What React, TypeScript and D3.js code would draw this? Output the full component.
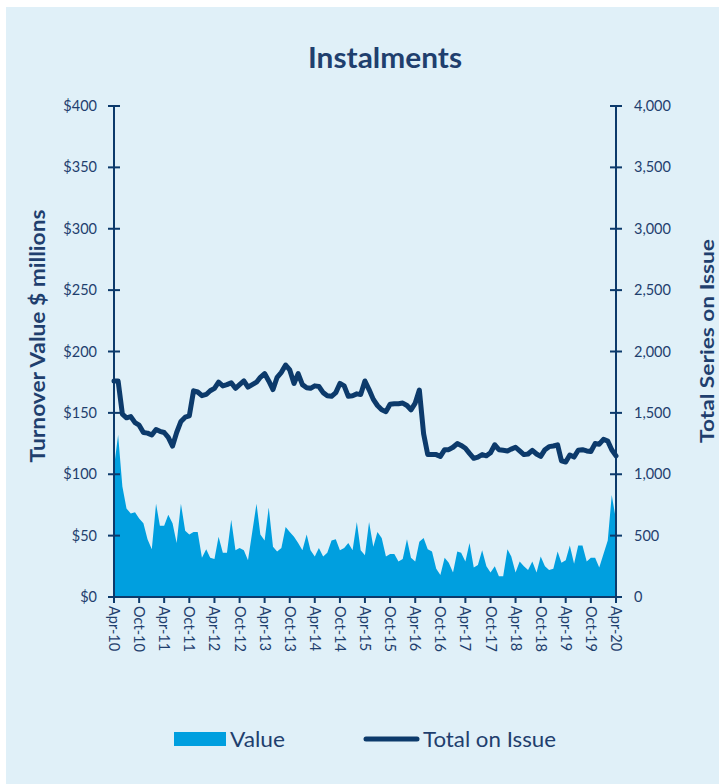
import * as d3 from 'd3';

// monthly, Apr-10 .. Apr-20
const startMonth = new Date(2010, 3, 1);

const valueSeries = [
  106, 132, 90, 72, 68, 69, 64, 60, 47, 39, 76, 58, 58, 67, 60, 44, 76, 54, 51, 53,
  53, 32, 39, 32, 31, 49, 36, 36, 63, 38, 40, 38, 30, 53, 76, 51, 46, 73, 41, 37,
  40, 57, 53, 49, 44, 38, 51, 38, 33, 40, 33, 36, 46, 47, 38, 40, 44, 38, 61, 38,
  34, 61, 41, 53, 48, 33, 35, 35, 29, 31, 47, 32, 29, 45, 48, 39, 37, 23, 18, 32,
  28, 20, 37, 36, 29, 44, 24, 26, 38, 25, 20, 25, 17, 17, 39, 33, 20, 29, 25, 22,
  29, 20, 33, 25, 22, 23, 37, 28, 30, 42, 27, 42, 42, 29, 32, 32, 24, 35, 46, 83,
  63,
];

const totalSeries = [
  1760, 1760, 1490, 1460, 1470, 1420, 1400, 1340, 1335, 1320, 1365, 1350, 1340, 1300, 1230, 1340, 1430, 1465, 1475, 1680,
  1670, 1640, 1650, 1680, 1700, 1750, 1720, 1730, 1745, 1700, 1730, 1760, 1710, 1730, 1750, 1790, 1820, 1760, 1690, 1790,
  1830, 1890, 1850, 1740, 1820, 1730, 1705, 1700, 1720, 1715, 1665, 1640, 1635, 1665, 1740, 1720, 1635, 1640, 1655, 1650,
  1760, 1690, 1610, 1560, 1525, 1510, 1570, 1575, 1575, 1580, 1560, 1525, 1580, 1686, 1330, 1160, 1160, 1160, 1145, 1200,
  1200, 1220, 1250, 1235, 1212, 1170, 1130, 1140, 1160, 1150, 1175, 1240, 1200, 1195, 1190, 1205, 1220, 1190, 1160, 1165,
  1195, 1165, 1145, 1200, 1225, 1230, 1240, 1110, 1100, 1157, 1140, 1195, 1200, 1190, 1185, 1250, 1245, 1285, 1270, 1200,
  1150,
];

const leftTicks = [0, 50, 100, 150, 200, 250, 300, 350, 400];
const rightTicks = [0, 500, 1000, 1500, 2000, 2500, 3000, 3500, 4000];

const navy = '#0c3a6b';
const textColor = '#1f3f6e';
const areaColor = '#009fdf';
const font = 'Lato, "Open Sans", sans-serif';

const left = 114;
const right = 616;
const top = 106;
const bottom = 597;

export default function App() {
  const dates = valueSeries.map((_, i) => d3.timeMonth.offset(startMonth, i));
  const data = dates.map((d, i) => ({ date: d, value: valueSeries[i], total: totalSeries[i] }));

  const x = d3.scaleTime().domain([dates[0], dates[dates.length - 1]]).range([left, right]);
  const yL = d3.scaleLinear().domain([0, 400]).range([bottom, top]);
  const yR = d3.scaleLinear().domain([0, 4000]).range([bottom, top]);

  const area = d3
    .area<(typeof data)[number]>()
    .x((d) => x(d.date))
    .y0(yL(0))
    .y1((d) => yL(d.value));

  const line = d3
    .line<(typeof data)[number]>()
    .x((d) => x(d.date))
    .y((d) => yR(d.total));

  const xTicks = dates.filter((_, i) => i % 6 === 0);
  const fmt = d3.timeFormat('%b-%y');

  return (
    <svg width={719} height={784} style={{ position: 'absolute', left: 0, top: 0 }}>
      <rect x={6} y={7} width={713} height={777} fill="#e0f0f8" />
      <text
        x={385}
        y={68}
        textAnchor="middle"
        fontFamily={font}
        fontWeight="bold"
        fontSize={28}
        textLength={154}
        lengthAdjust="spacingAndGlyphs"
        fill={textColor}
      >
        Instalments
      </text>

      <path d={area(data) ?? ''} fill={areaColor} />
      <path d={line(data) ?? ''} fill="none" stroke={navy} strokeWidth={5} strokeLinejoin="round" strokeLinecap="round" />

      {/* left axis */}
      <line x1={left} x2={left} y1={top} y2={bottom} stroke={navy} strokeWidth={2} />
      {leftTicks.map((t) => (
        <g key={'l' + t}>
          <line x1={left - 6} x2={left + 6} y1={yL(t)} y2={yL(t)} stroke={navy} strokeWidth={2} />
          <text x={97} y={yL(t) + 5} textAnchor="end" fontFamily={font} fontSize={14.5} fill={textColor}>
            {'$' + t}
          </text>
        </g>
      ))}

      {/* right axis */}
      <line x1={right} x2={right} y1={top} y2={bottom} stroke={navy} strokeWidth={2} />
      {rightTicks.map((t) => (
        <g key={'r' + t}>
          <line x1={right - 6} x2={right + 6} y1={yR(t)} y2={yR(t)} stroke={navy} strokeWidth={2} />
          <text x={634} y={yR(t) + 5} textAnchor="start" fontFamily={font} fontSize={14.5} fill={textColor}>
            {d3.format(',')(t)}
          </text>
        </g>
      ))}

      {/* x axis */}
      <line x1={left} x2={right} y1={bottom} y2={bottom} stroke={navy} strokeWidth={2} />
      {xTicks.map((d) => (
        <g key={d.toISOString()}>
          <line x1={x(d)} x2={x(d)} y1={bottom} y2={bottom + 6} stroke={navy} strokeWidth={2} />
          <text
            transform={`translate(${x(d) - 5},${bottom + 9}) rotate(90)`}
            textAnchor="start"
            fontFamily={font}
            fontSize={14.5}
            fill={textColor}
          >
            {fmt(d)}
          </text>
        </g>
      ))}

      <text
        transform={`translate(45,336) rotate(-90)`}
        textAnchor="middle"
        fontFamily={font}
        fontWeight="bold"
        fontSize={20}
        textLength={253}
        lengthAdjust="spacingAndGlyphs"
        fill={textColor}
      >
        Turnover Value $ millions
      </text>
      <text
        transform={`translate(714,341) rotate(-90)`}
        textAnchor="middle"
        fontFamily={font}
        fontWeight="bold"
        fontSize={19.5}
        textLength={204}
        lengthAdjust="spacingAndGlyphs"
        fill={textColor}
      >
        Total Series on Issue
      </text>

      {/* legend */}
      <rect x={174} y={732} width={52} height={14} fill={areaColor} />
      <text x={230} y={747} fontFamily={font} fontSize={21} textLength={55} lengthAdjust="spacingAndGlyphs" fill={textColor}>
        Value
      </text>
      <line x1={366} x2={417} y1={739} y2={739} stroke={navy} strokeWidth={5} strokeLinecap="round" />
      <text x={423} y={747} fontFamily={font} fontSize={21} textLength={133} lengthAdjust="spacingAndGlyphs" fill={textColor}>
        Total on Issue
      </text>
    </svg>
  );
}
